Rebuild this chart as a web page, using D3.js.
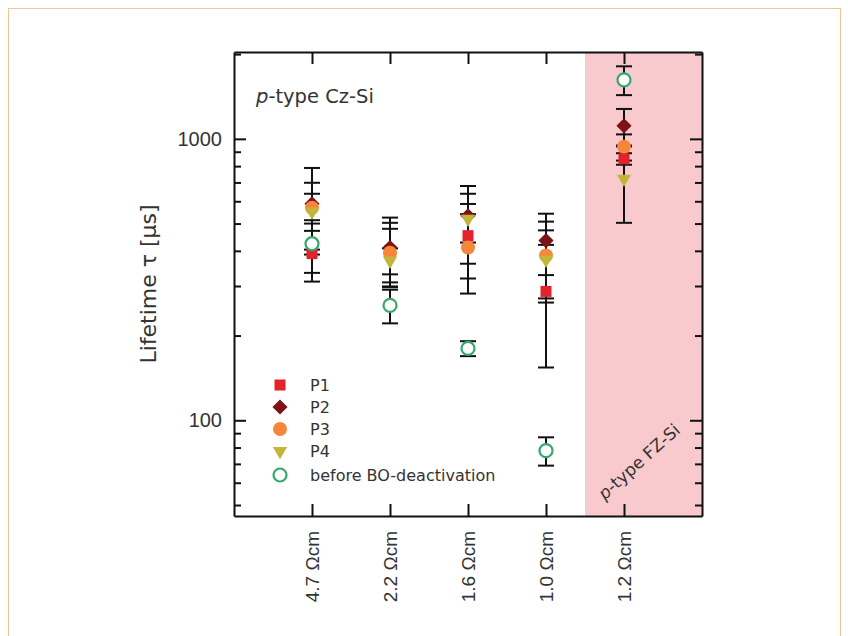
<!DOCTYPE html>
<html>
<head>
<script src="https://cdnjs.cloudflare.com/ajax/libs/d3/7.8.5/d3.min.js"></script>
<meta charset="utf-8">
<title>Lifetime</title>
</head>
<style>
body { margin: 0; background: #fff; }
svg { font-family: "DejaVu Sans", sans-serif; }
.axis path, .axis line { stroke: #111; stroke-width: 2; }
.axis text { fill: #333; }
</style>
<body>
<script>

// resistivity groups (4 Cz-Si + 1 FZ-Si)
var categories = ["4.7 \u03A9cm", "2.2 \u03A9cm", "1.6 \u03A9cm", "1.0 \u03A9cm", "1.2 \u03A9cm"];

// lifetimes in µs and their error bars
var p1 = [391, 401, 453, 287, 849];
var p1Err = [80, 102, 134, 133, 40];
var p2 = [588, 411, 533, 435, 1112];
var p2Err = [200, 114, 105, 107, 165];
var p3 = [569, 394, 411, 385, 937];
var p3Err = [69, 85, 129, 123, 100];
var p4 = [551, 369, 520, 372, 721];
var p4Err = [147, 39, 160, 101, 218];
var before = [424, 256, 180, 78, 1620];
var beforeErr = [90, 35, 11, 9, 190];

var seriesNames = ["P1", "P2", "P3", "P4", "before BO-deactivation"];
var majorTicks = [100, 1000];
var minorTicks = [50, 60, 70, 80, 90, 200, 300, 400, 500, 600, 700, 800, 900, 2000];

var colors = ["#e3232c", "#7d1315", "#f5863a", "#c3b43a", "#36a86c"];

var series = [
  {name: seriesNames[0], vals: p1, err: p1Err, shape: "square"},
  {name: seriesNames[1], vals: p2, err: p2Err, shape: "diamond"},
  {name: seriesNames[2], vals: p3, err: p3Err, shape: "circle"},
  {name: seriesNames[3], vals: p4, err: p4Err, shape: "triangle"},
  {name: seriesNames[4], vals: before, err: beforeErr, shape: "open"}
];
series.forEach(function(s, i) { s.color = colors[i]; });

var plotL = 234, plotR = 702, plotT = 52, plotB = 516;

var x = d3.scaleLinear().domain([0, 6]).range([plotL, plotR]);
var y = d3.scaleLog().domain([45.7, 2035]).range([plotB, plotT]);

var svg = d3.select("body").append("svg")
  .attr("width", 848)
  .attr("height", 636);

// page frame
svg.append("rect")
  .attr("x", 8.5).attr("y", 8.5)
  .attr("width", 832).attr("height", 640)
  .attr("fill", "none")
  .attr("stroke", "#f4c594")
  .attr("stroke-width", 1);

// FZ-Si region
svg.append("rect")
  .attr("x", x(4.5)).attr("y", plotT)
  .attr("width", x(6) - x(4.5)).attr("height", plotB - plotT)
  .attr("fill", "#f8cacd");

// axes
var catIdx = d3.range(1, 6);

svg.append("g").attr("class", "axis")
  .attr("transform", "translate(0," + plotB + ")")
  .call(d3.axisBottom(x).tickValues(catIdx).tickSize(-12).tickSizeOuter(0)
    .tickFormat(function(d) { return categories[d - 1]; }))
  .selectAll("text")
  .attr("transform", "rotate(-90)")
  .attr("text-anchor", "end")
  .attr("x", -15).attr("y", 0).attr("dy", "0.35em")
  .style("font-size", "19px");

svg.append("g").attr("class", "axis")
  .attr("transform", "translate(0," + plotT + ")")
  .call(d3.axisTop(x).tickValues(catIdx).tickSize(-12).tickSizeOuter(0).tickFormat(""));

svg.append("g").attr("class", "axis")
  .attr("transform", "translate(" + plotL + ",0)")
  .call(d3.axisLeft(y).tickValues(majorTicks).tickSize(-12).tickSizeOuter(0)
    .tickPadding(12).tickFormat(d3.format("d")))
  .selectAll("text").style("font-size", "20px");

svg.append("g").attr("class", "axis")
  .attr("transform", "translate(" + plotL + ",0)")
  .call(d3.axisLeft(y).tickValues(minorTicks).tickSize(-7).tickSizeOuter(0).tickFormat(""))
  .select(".domain").remove();

svg.append("g").attr("class", "axis")
  .attr("transform", "translate(" + plotR + ",0)")
  .call(d3.axisRight(y).tickValues(majorTicks).tickSize(-12).tickSizeOuter(0).tickFormat(""));

svg.append("g").attr("class", "axis")
  .attr("transform", "translate(" + plotR + ",0)")
  .call(d3.axisRight(y).tickValues(minorTicks).tickSize(-7).tickSizeOuter(0).tickFormat(""))
  .select(".domain").remove();

// y label
svg.append("text")
  .attr("transform", "translate(148," + ((plotT + plotB) / 2) + ") rotate(-90)")
  .attr("text-anchor", "middle")
  .attr("dy", "0.35em")
  .style("font-size", "22px")
  .attr("fill", "#333")
  .text("Lifetime \u03C4  [\u00B5s]");

// annotations
var t1 = svg.append("text")
  .attr("x", 256).attr("y", 103)
  .style("font-size", "19.5px")
  .attr("fill", "#333");
t1.append("tspan").style("font-style", "italic").text("p");
t1.append("tspan").text("-type Cz-Si");

var t2 = svg.append("text")
  .attr("transform", "translate(643,466) rotate(-42)")
  .attr("text-anchor", "middle")
  .style("font-size", "17px")
  .attr("fill", "#333");
t2.append("tspan").style("font-style", "italic").text("p");
t2.append("tspan").text("-type FZ-Si");

// error bars
var capW = 8;
series.forEach(function(s) {
  var g = svg.append("g");
  s.vals.forEach(function(v, i) {
    var cx = x(i + 1), y0 = y(v - s.err[i]), y1 = y(v + s.err[i]);
    g.append("line").attr("x1", cx).attr("x2", cx).attr("y1", y0).attr("y2", y1)
      .attr("stroke", "#111").attr("stroke-width", 2);
    [y0, y1].forEach(function(yy) {
      g.append("line").attr("x1", cx - capW).attr("x2", cx + capW).attr("y1", yy).attr("y2", yy)
        .attr("stroke", "#111").attr("stroke-width", 2);
    });
  });
});

function drawMarker(g, shape, color, cx, cy) {
  if (shape === "square") {
    g.append("rect").attr("x", cx - 5.5).attr("y", cy - 5.5).attr("width", 11).attr("height", 11)
      .attr("fill", color);
  } else if (shape === "diamond") {
    g.append("path").attr("d", d3.symbol().type(d3.symbolSquare).size(115)())
      .attr("transform", "translate(" + cx + "," + cy + ") rotate(45)")
      .attr("fill", color);
  } else if (shape === "circle") {
    g.append("circle").attr("cx", cx).attr("cy", cy).attr("r", 7).attr("fill", color);
  } else if (shape === "triangle") {
    g.append("path").attr("d", d3.symbol().type(d3.symbolTriangle).size(88)())
      .attr("transform", "translate(" + cx + "," + cy + ") rotate(180)")
      .attr("fill", color);
  } else {
    g.append("circle").attr("cx", cx).attr("cy", cy).attr("r", 6.5)
      .attr("fill", "#fff").attr("stroke", color).attr("stroke-width", 2.2);
  }
}

// markers
series.forEach(function(s) {
  var g = svg.append("g");
  s.vals.forEach(function(v, i) {
    drawMarker(g, s.shape, s.color, x(i + 1), y(v));
  });
});

// legend
var legendY = [385, 407, 429, 451, 475];
var lg = svg.append("g");
series.forEach(function(s, i) {
  drawMarker(lg, s.shape, s.color, 280, legendY[i]);
  lg.append("text").attr("x", 310).attr("y", legendY[i]).attr("dy", "0.35em")
    .style("font-size", "16px").attr("fill", "#333").text(s.name);
});

</script>
</body>
</html>
